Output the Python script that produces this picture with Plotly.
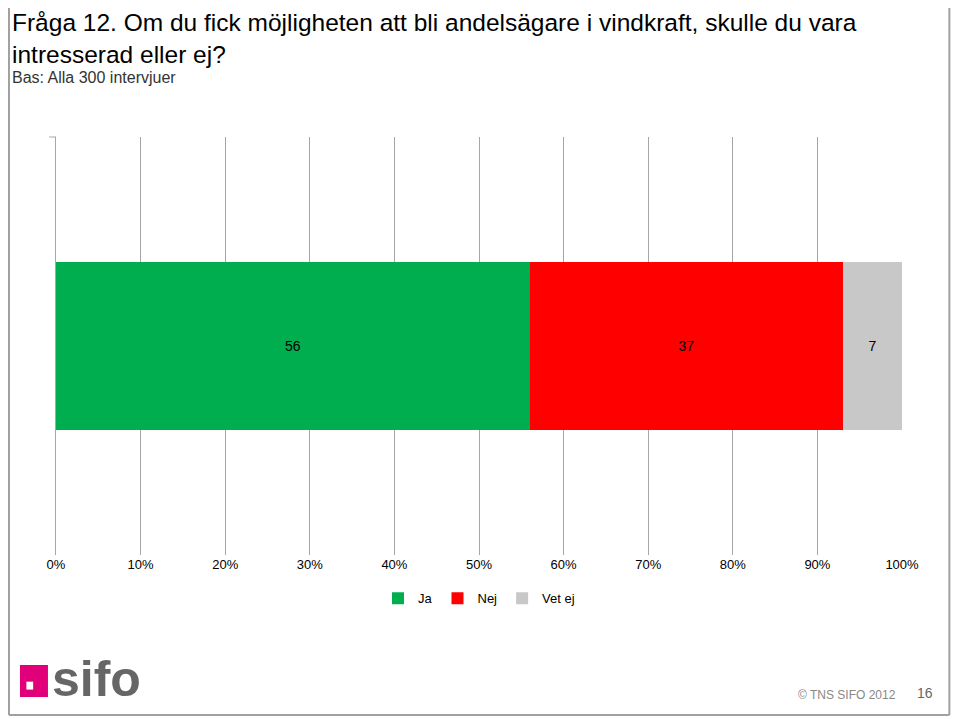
import plotly.graph_objects as go

categories = [""]
series = ["Ja", "Nej", "Vet ej"]
values = [[56], [37], [7]]
colors = ["#00AE4F", "#FF0000", "#C8C8C8"]
ticks = [0, 10, 20, 30, 40, 50, 60, 70, 80, 90, 100]
tick_labels = [f"{t}%" for t in ticks]

fig = go.Figure()
for name, v, c in zip(series, values, colors):
    fig.add_trace(go.Bar(y=categories, x=v, name=name, orientation="h",
                         marker=dict(color=c, line_width=0),
                         text=[str(x) for x in v], textposition="inside",
                         insidetextanchor="middle",
                         textfont=dict(color="black", size=14, family="Liberation Sans")))

fig.update_layout(
    barmode="stack", bargap=0.6,
    width=952, height=711,
    margin=dict(l=48, r=58, t=129, b=164),
    plot_bgcolor="white", paper_bgcolor="white",
    font=dict(family="Liberation Sans", color="black"),
    xaxis=dict(range=[0, 100], tickvals=ticks, ticktext=tick_labels,
               showgrid=True, gridcolor="#A6A6A6", gridwidth=1,
               zeroline=False, tickfont=dict(size=13), ticks="", fixedrange=True),
    yaxis=dict(showticklabels=False, showline=True, linecolor="#A6A6A6",
               ticks="", zeroline=False),
    legend=dict(orientation="h", x=0.5, xanchor="center", y=-0.068, yanchor="top",
                font=dict(size=13), itemwidth=30, traceorder="normal"),
    showlegend=True,
    uniformtext=dict(mode="show", minsize=13),
)
fig.add_annotation(xref="paper", yref="paper", x=-0.0544, y=1.31, xanchor="left", yanchor="top",
                   align="left", showarrow=False,
                   text="Fråga 12. Om du fick möjligheten att bli andelsägare i vindkraft, skulle du vara<br>intresserad eller ej?",
                   font=dict(size=24.5, family="Liberation Sans"))
fig.add_annotation(xref="paper", yref="paper", x=-0.0544, y=1.168, xanchor="left", yanchor="top",
                   showarrow=False, text="Bas: Alla 300 intervjuer",
                   font=dict(size=16, family="Liberation Sans", color="#333"))
fig.add_shape(type="line", xref="paper", yref="paper", x0=-0.008, x1=0, y0=1, y1=1,
              line=dict(color="#A6A6A6", width=1))
# border
for x0, x1, y0, y1 in [(-0.0556, -0.0556, 1.33, -0.383), (1.056, 1.056, 1.33, -0.383),
                       (-0.0556, 1.056, -0.383, -0.383)]:
    fig.add_shape(type="line", xref="paper", yref="paper", x0=x0, x1=x1, y0=y0, y1=y1,
                  line=dict(color="#A0A0A0", width=2))
# logo
fig.add_shape(type="rect", xref="paper", yref="paper", x0=-0.0426, x1=-0.0095, y0=-0.340, y1=-0.263,
              fillcolor="#E2007A", line_width=0)
fig.add_shape(type="rect", xref="paper", yref="paper", x0=-0.035, x1=-0.027, y0=-0.322, y1=-0.303,
              fillcolor="white", line_width=0)
fig.add_annotation(xref="paper", yref="paper", x=-0.007, y=-0.297, xanchor="left", yanchor="middle",
                   showarrow=False, text="<b>sifo</b>",
                   font=dict(size=50, family="Liberation Sans", color="#666666"))
fig.add_annotation(xref="paper", yref="paper", x=0.995, y=-0.335, xanchor="right", yanchor="middle",
                   showarrow=False, text="© TNS SIFO 2012",
                   font=dict(size=12, family="Liberation Sans", color="#888"))
fig.add_annotation(xref="paper", yref="paper", x=1.027, y=-0.330, xanchor="center", yanchor="middle",
                   showarrow=False, text="16",
                   font=dict(size=14, family="Liberation Sans", color="#666"))
fig.write_html("out.html")
